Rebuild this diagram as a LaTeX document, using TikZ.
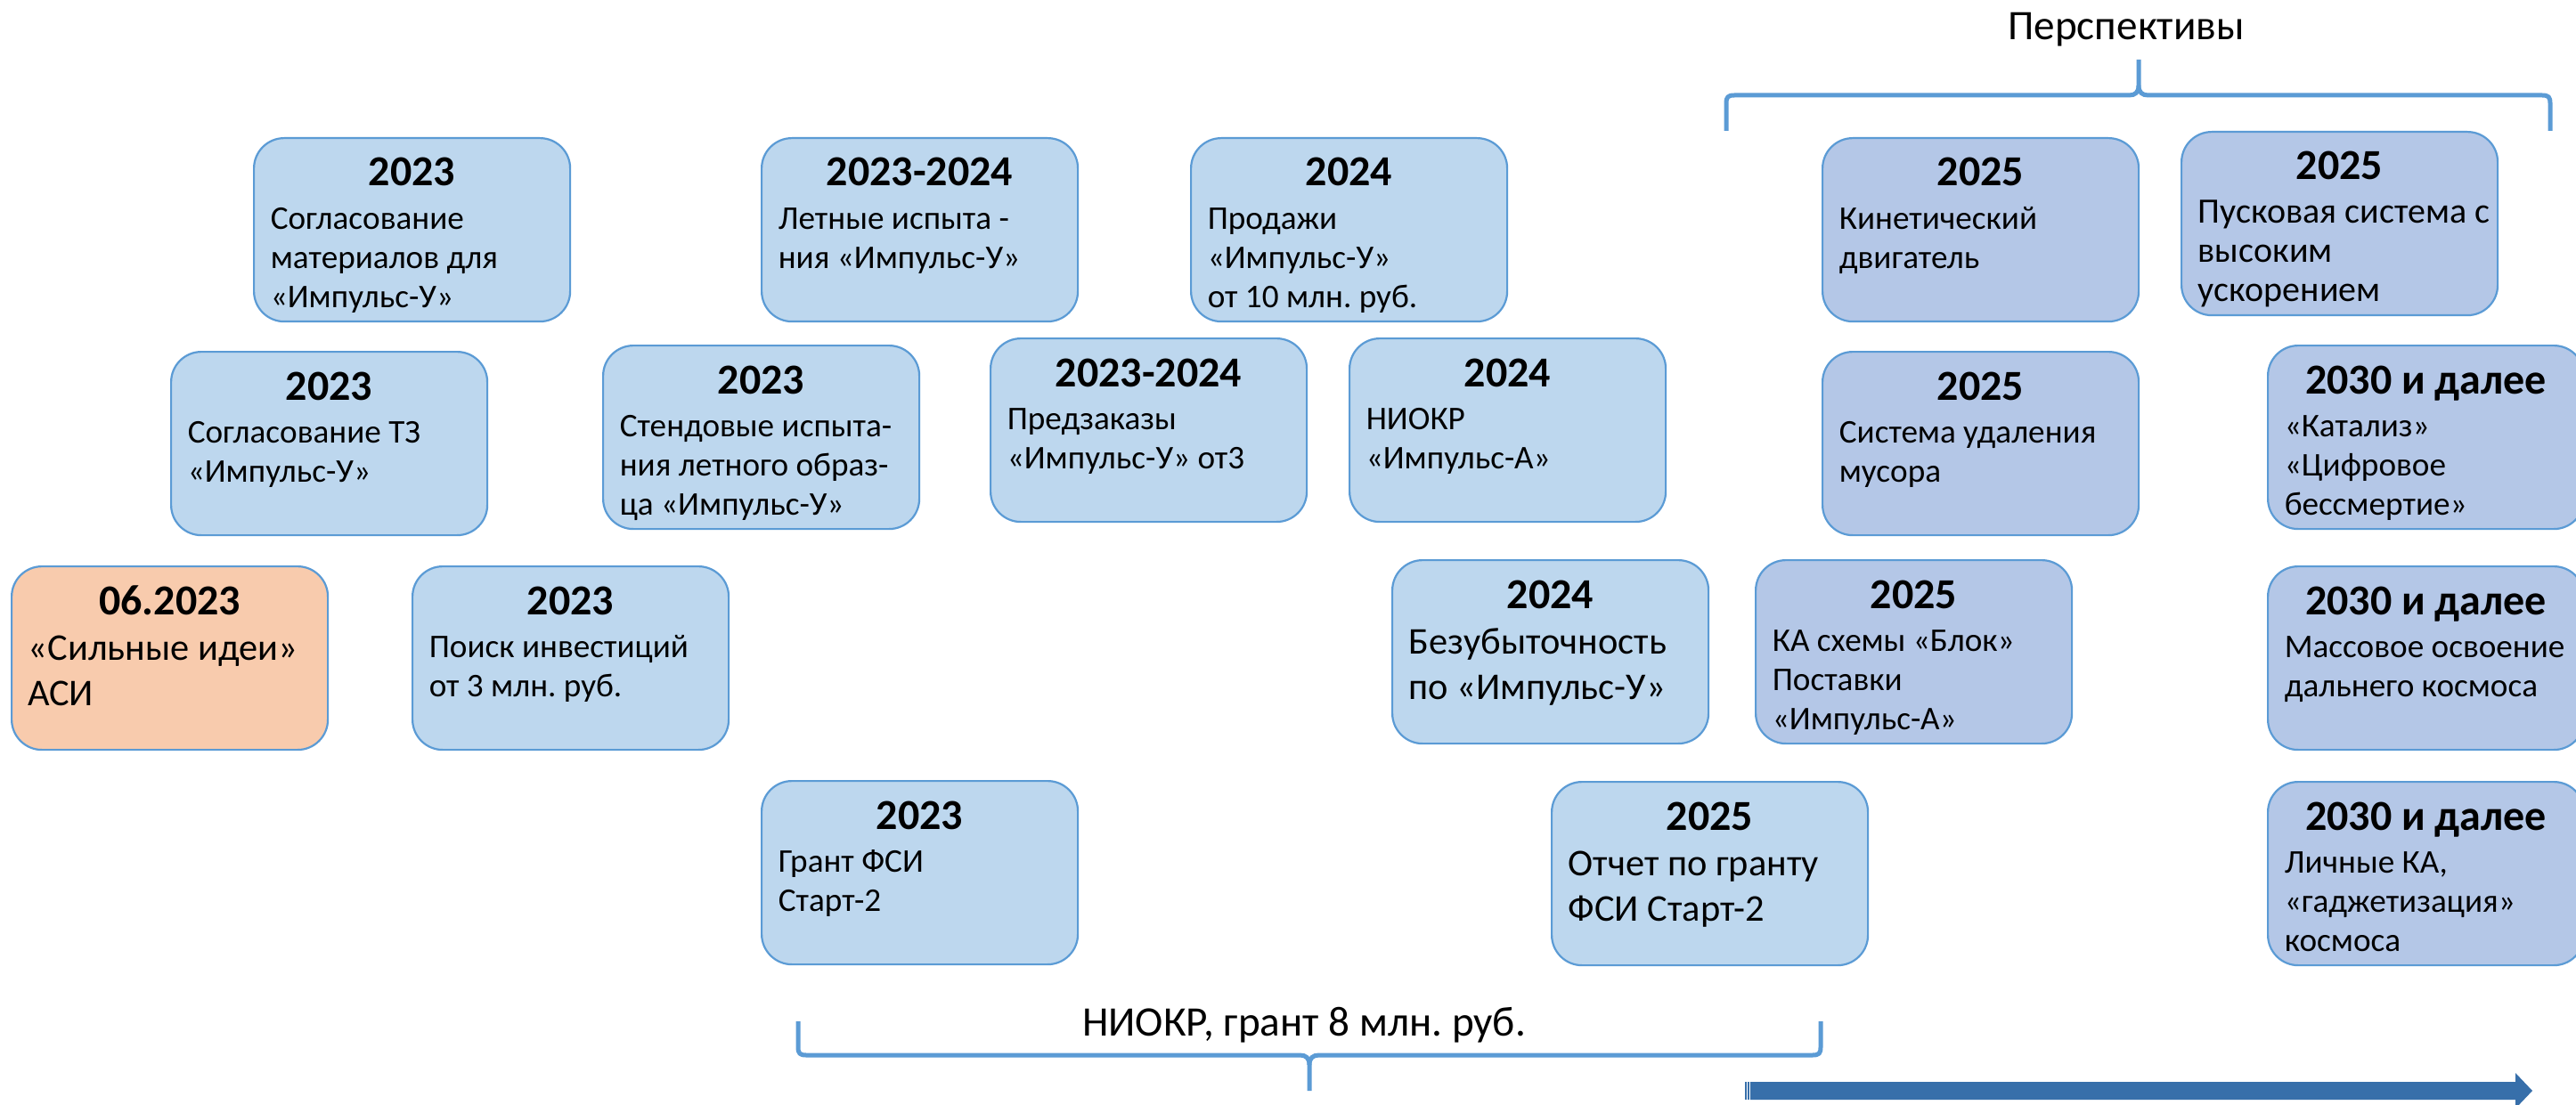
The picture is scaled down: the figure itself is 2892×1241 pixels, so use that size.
\documentclass[tikz,border=0pt]{standalone}
\usepackage{fontspec}
\setmainfont{Carlito}
\usetikzlibrary{calc}
\definecolor{boxc}{HTML}{BDD7EE}
\definecolor{boxd}{HTML}{B4C7E7}
\definecolor{peach}{HTML}{F8CBAD}
\definecolor{bordc}{HTML}{5B9BD5}
\definecolor{arrc}{HTML}{376FAA}
\tikzset{
  box/.style={draw=bordc, line width=0.55pt, rounded corners=8.5pt,
    minimum width=88.75pt, minimum height=51.5pt, inner sep=0pt,
    anchor=north west, fill=boxc},
  later/.style={fill=boxd},
  hot/.style={fill=peach},
  yr/.style={anchor=base, inner sep=0pt, font=\fontsize{12}{14}\selectfont\bfseries},
  bd/.style={anchor=north west, inner sep=0pt, align=left,
    font=\frenchspacing\fontsize{9.3}{11}\selectfont},
  bdbig/.style={font=\frenchspacing\fontsize{10.6}{12.75}\selectfont, yshift=-0.75pt},
  bdmid/.style={font=\frenchspacing\fontsize{10}{11}\selectfont},
  brace/.style={draw=bordc, line width=1.25pt},
  lbl/.style={anchor=base, inner sep=0pt, font=\frenchspacing\fontsize{11.8}{14}\selectfont},
}
\newcommand\tlbox[7][]{%
  \node[box,#5] (#2) at (#3,#4) {};
  \node[yr] (#2-y) at ($(#2.north)+(0,55)$) {#6};
  \node[bd,#1] (#2-b) at ($(#2.north west)+(19,67)$) {\rule{0pt}{9pt}#7};
}
\begin{document}
\begin{tikzpicture}[x=0.25pt,y=-0.25pt]
\useasboundingbox (0,0) rectangle (2892,1241);
\fill[white] (0,0) rectangle (2892,1241);

\tlbox{a}{284}{154}{}{2023}{Согласование\\материалов для\\«Импульс-У»}
\tlbox{b}{191}{394}{}{2023}{Согласование ТЗ\\«Импульс-У»}
\tlbox[bdbig]{c}{12}{635}{hot}{06.2023}{«Сильные идеи»\\АСИ}
\tlbox{d}{462}{635}{}{2023}{Поиск инвестиций\\от 3 млн. руб.}
\tlbox{e}{676}{387}{}{2023}{Стендовые испыта-\\ния летного образ-\\ца «Импульс-У»}
\tlbox{q}{854}{876}{}{2023}{Грант ФСИ\\Старт-2}
\tlbox{r}{854}{154}{}{2023-2024}{Летные испыта -\\ния «Импульс-У»}
\tlbox{f}{1111}{379}{}{2023-2024}{Предзаказы\\«Импульс-У» от3}
\tlbox{s}{1336}{154}{}{2024}{Продажи\\«Импульс-У»\\от 10 млн. руб.}
\tlbox{g}{1514}{379}{}{2024}{НИОКР\\«Импульс-А»}
\tlbox[bdbig]{h}{1562}{628}{}{2024}{Безубыточность\\по «Импульс-У»}
\tlbox[bdbig]{j}{1741}{877}{}{2025}{Отчет по гранту\\ФСИ Старт-2}
\tlbox{k}{2045}{154}{later}{2025}{Кинетический\\двигатель}
\tlbox[bdmid]{l}{2448}{147}{later}{2025}{Пусковая система с\\высоким\\ускорением}
\tlbox{m}{2045}{394}{later}{2025}{Система удаления\\мусора}
\tlbox{i}{1970}{628}{later}{2025}{КА схемы «Блок»\\Поставки\\«Импульс-А»}
\tlbox{n}{2545}{387}{later}{2030 и далее}{«Катализ»\\«Цифровое\\бессмертие»}
\tlbox{o}{2545}{635}{later}{2030 и далее}{Массовое освоение\\дальнего космоса}
\tlbox{p}{2545}{877}{later}{2030 и далее}{Личные КА,\\«гаджетизация»\\космоса}

% top brace
\draw[brace] (1938,147) -- (1938,116) .. controls (1938,109) and (1940,107) .. (1947,107)
  -- (2390,107) .. controls (2397,107) and (2401,104) .. (2401,96) -- (2401,67);
\draw[brace] (2401,96) .. controls (2401,104) and (2405,107) .. (2412,107)
  -- (2854,107) .. controls (2861,107) and (2863,109) .. (2863,116) -- (2863,147);
\node[lbl] (persp) at (2387,45) {Перспективы};

% bottom brace
\draw[brace] (896,1147) -- (896,1176) .. controls (896,1183) and (898,1185) .. (905,1185)
  -- (1459,1185) .. controls (1466,1185) and (1470,1188) .. (1470,1196) -- (1470,1225);
\draw[brace] (1470,1196) .. controls (1470,1188) and (1474,1185) .. (1481,1185)
  -- (2035,1185) .. controls (2042,1185) and (2044,1183) .. (2044,1176) -- (2044,1147);
\node[lbl] (niokr) at (1464,1163) {НИОКР, грант 8 млн. руб.};

% timeline arrow
\fill[arrc] (1959,1215) rectangle (1960.6,1235);
\fill[arrc] (1962,1215) rectangle (1963.6,1235);
\fill[arrc] (1965,1215) -- (2824,1215) -- (2824,1205) -- (2843,1225) -- (2824,1245)
  -- (2824,1235) -- (1965,1235) -- cycle;
\end{tikzpicture}
\end{document}
